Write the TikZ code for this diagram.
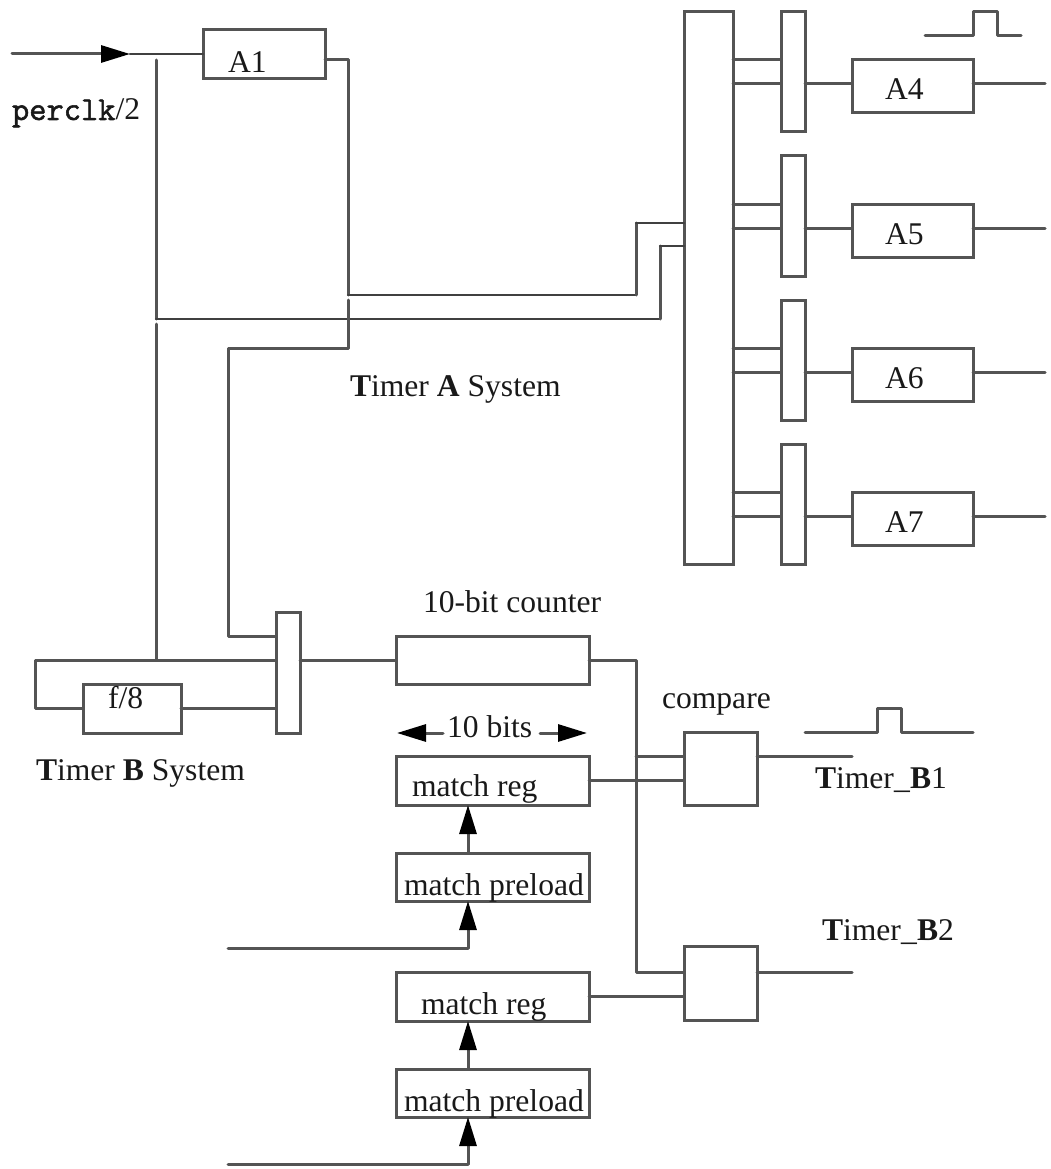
\documentclass[tikz,border=0pt]{standalone}
\usepackage{fontspec}
\setmainfont{Liberation Serif}
\usetikzlibrary{arrows.meta}
\definecolor{wire}{gray}{0.33}
\newfontface\clkfont{Latin Modern Mono}[FakeBold=1.6]
\tikzset{
  wireline/.style={draw=wire,line width=3pt,line cap=round,line join=round},
  thinwire/.style={draw=black!75,line width=2.2pt,line cap=round,line join=round},
  boxn/.style={draw=wire,line width=3pt,inner sep=0pt,outer sep=0pt,fill=white},
  lbl/.style={anchor=base west,inner sep=0pt,outer sep=0pt,font=\fontsize{31.6}{34}\selectfont,text=black!90},
  headline/.style={wireline,-{Triangle[length=29pt,width=17pt,fill=black,color=black]}}
}
\newcommand{\bxnode}[6]{\node[boxn,minimum width=#4pt,minimum height=#5pt] (#1) at (#2,#3) {};}
\begin{document}
\begin{tikzpicture}[x=1pt,y=-1pt]
\useasboundingbox (0,0) rectangle (1050,1169);
% level guides
\foreach \yy in {36,54,60,84,204,228,223,246,295,319,323,348,372,492,516,636,660,708,733,756,780,948,972,996,1164}
  {\coordinate (y\yy) at (0,\yy);}
\coordinate (x156) at (156,0);
\coordinate (x228) at (228,0);
\coordinate (x348) at (348,0);
\coordinate (x468) at (468,0);
\coordinate (x636) at (636,0);
\coordinate (x660) at (660,0);
\coordinate (x35) at (35,0);
% boxes
\bxnode{a1}{264}{54.5}{122}{49}{}
\bxnode{big}{708.5}{288}{49}{552}{}
\bxnode{muxa}{793}{72}{24}{120}{}
\bxnode{muxb}{793}{216}{24}{120}{}
\bxnode{muxc}{793}{360}{24}{120}{}
\bxnode{muxd}{793}{504}{24}{120}{}
\bxnode{a4}{912.5}{86.5}{121}{53}{}
\bxnode{a5}{912.5}{230.5}{121}{53}{}
\bxnode{a6}{912.5}{374.5}{121}{53}{}
\bxnode{a7}{912.5}{518.5}{121}{53}{}
\bxnode{muxt}{288}{672.5}{24}{121}{}
\bxnode{fe}{132}{708.5}{98}{49}{}
\bxnode{cnt}{492.5}{660}{193}{48}{}
\bxnode{mra}{492.5}{780.5}{193}{49}{}
\bxnode{mpa}{492.5}{877}{193}{48}{}
\bxnode{mrb}{492.5}{996.5}{193}{49}{}
\bxnode{mpb}{492.5}{1093}{193}{48}{}
\bxnode{cmpa}{720.5}{768.5}{73}{73}{}
\bxnode{cmpb}{720.5}{983}{73}{74}{}
% free ends
\coordinate (inS) at (12,54);
\coordinate (inM) at (130,54);
\coordinate (ffTop) at (156,60);
\coordinate (ffLow) at (156,324);
\coordinate (a1Gap) at (348,300);
\coordinate (outA4) at (1045,84);
\coordinate (outA5) at (1045,228);
\coordinate (outA6) at (1045,372);
\coordinate (outA7) at (1045,516);
\coordinate (loopT) at (35,660);
\coordinate (tb1) at (852,756);
\coordinate (tb2) at (852,972);
\coordinate (srcA) at (228,948);
\coordinate (srcB) at (228,1164);
\coordinate (bitsL) at (443,733);
\coordinate (bitsLe) at (397,733);
\coordinate (bitsR) at (540,733);
\coordinate (bitsRe) at (587,733);
% input
\path[headline] (inS) -- (inM);
\path[thinwire] (inM) -- (a1.west |- y54);
% Timer A wiring
\path[wireline] (a1.east |- y60) -- (x348 |- y60) -- (x348 |- y295);
\path[thinwire] (x348 |- y295) -- (x636 |- y295);
\path[wireline] (x636 |- y295) -- (x636 |- y223);
\path[thinwire] (x636 |- y223) -- (big.west |- y223);
\path[wireline] (ffTop) -- (x156 |- y319);
\path[thinwire] (x156 |- y319) -- (x660 |- y319);
\path[wireline] (x660 |- y319) -- (x660 |- y246);
\path[thinwire] (x660 |- y246) -- (big.west |- y246);
\path[wireline] (a1Gap) -- (x348 |- y348) -- (x228 |- y348) -- (x228 |- y636) -- (muxt.west |- y636);
\path[wireline] (ffLow) -- (x156 |- y660);
% big to mux and A4..A7
\foreach \m/\r/\ya/\yb/\o in {muxa/a4/60/84/outA4,muxb/a5/204/228/outA5,muxc/a6/348/372/outA6,muxd/a7/492/516/outA7}{
  \path[wireline] (big.east |- y\ya) -- (\m.west |- y\ya);
  \path[wireline] (big.east |- y\yb) -- (\m.west |- y\yb);
  \path[wireline] (\m.east |- y\yb) -- (\r.west |- y\yb);
  \path[wireline] (\r.east |- y\yb) -- (\o);
}
% pulse top
\coordinate (pa0) at (925,36); \coordinate (pa1) at (973,36); \coordinate (pa2) at (973,12);
\coordinate (pa3) at (997,12); \coordinate (pa4) at (997,36); \coordinate (pa5) at (1021,36);
\path[wireline] (pa0) -- (pa1) -- (pa2) -- (pa3) -- (pa4) -- (pa5);
% Timer B wiring
\path[wireline] (muxt.west |- y660) -- (loopT) -- (x35 |- y708) -- (fe.west |- y708);
\path[wireline] (fe.east |- y708) -- (muxt.west |- y708);
\path[wireline] (muxt.east |- y660) -- (cnt.west |- y660);
\path[wireline] (cnt.east |- y660) -- (x636 |- y660) -- (x636 |- y972) -- (cmpb.west |- y972);
\path[wireline] (x636 |- y756) -- (cmpa.west |- y756);
\path[wireline] (mra.east |- y780) -- (cmpa.west |- y780);
\path[wireline] (cmpa.east |- y756) -- (tb1);
\path[wireline] (mrb.east |- y996) -- (cmpb.west |- y996);
\path[wireline] (cmpb.east |- y972) -- (tb2);
% pulse lower
\coordinate (pb0) at (805,732); \coordinate (pb1) at (877,732); \coordinate (pb2) at (877,708);
\coordinate (pb3) at (901,708); \coordinate (pb4) at (901,732); \coordinate (pb5) at (973,732);
\path[wireline] (pb0) -- (pb1) -- (pb2) -- (pb3) -- (pb4) -- (pb5);
% arrows
\path[headline] (bitsL) -- (bitsLe);
\path[headline] (bitsR) -- (bitsRe);
\path[headline] (mpa.north -| x468) -- (mra.south -| x468);
\path[headline] (mpb.north -| x468) -- (mrb.south -| x468);
\path[wireline] (srcA) -- (x468 |- y948);
\path[headline] (srcA -| x468) -- (mpa.south -| x468);
\path[wireline] (srcB) -- (x468 |- y1164);
\path[headline] (srcB -| x468) -- (mpb.south -| x468);
% labels
\node[lbl] (tA1) at (228,73) {A1};
\node[lbl] (tA4) at (885,100) {A4};
\node[lbl] (tA5) at (885,244) {A5};
\node[lbl] (tA6) at (885,388) {A6};
\node[lbl] (tA7) at (885,532) {A7};
\node[lbl] (tclk) at (12,120) {{\clkfont\fontsize{33.5}{34}\selectfont perclk}/2};
\node[lbl] (tTA) at (350,396) {\textbf{T}imer \textbf{A} System};
\node[lbl] (tTB) at (36,780) {\textbf{T}imer \textbf{B} System};
\node[lbl] (tf8) at (108,708) {f/8};
\node[lbl] (tcnt) at (423,612) {10-bit counter};
\node[lbl] (tbits) at (447,737) {10 bits};
\node[lbl] (tmra) at (412,796) {match reg};
\node[lbl] (tmpa) at (404,895) {match preload};
\node[lbl] (tmrb) at (421,1014) {match reg};
\node[lbl] (tmpb) at (404,1111) {match preload};
\node[lbl] (tcmp) at (662,708) {compare};
\node[lbl] (tb1t) at (815,788) {\textbf{T}imer\_\textbf{B}1};
\node[lbl] (tb2t) at (822,940) {\textbf{T}imer\_\textbf{B}2};
\end{tikzpicture}
\end{document}
